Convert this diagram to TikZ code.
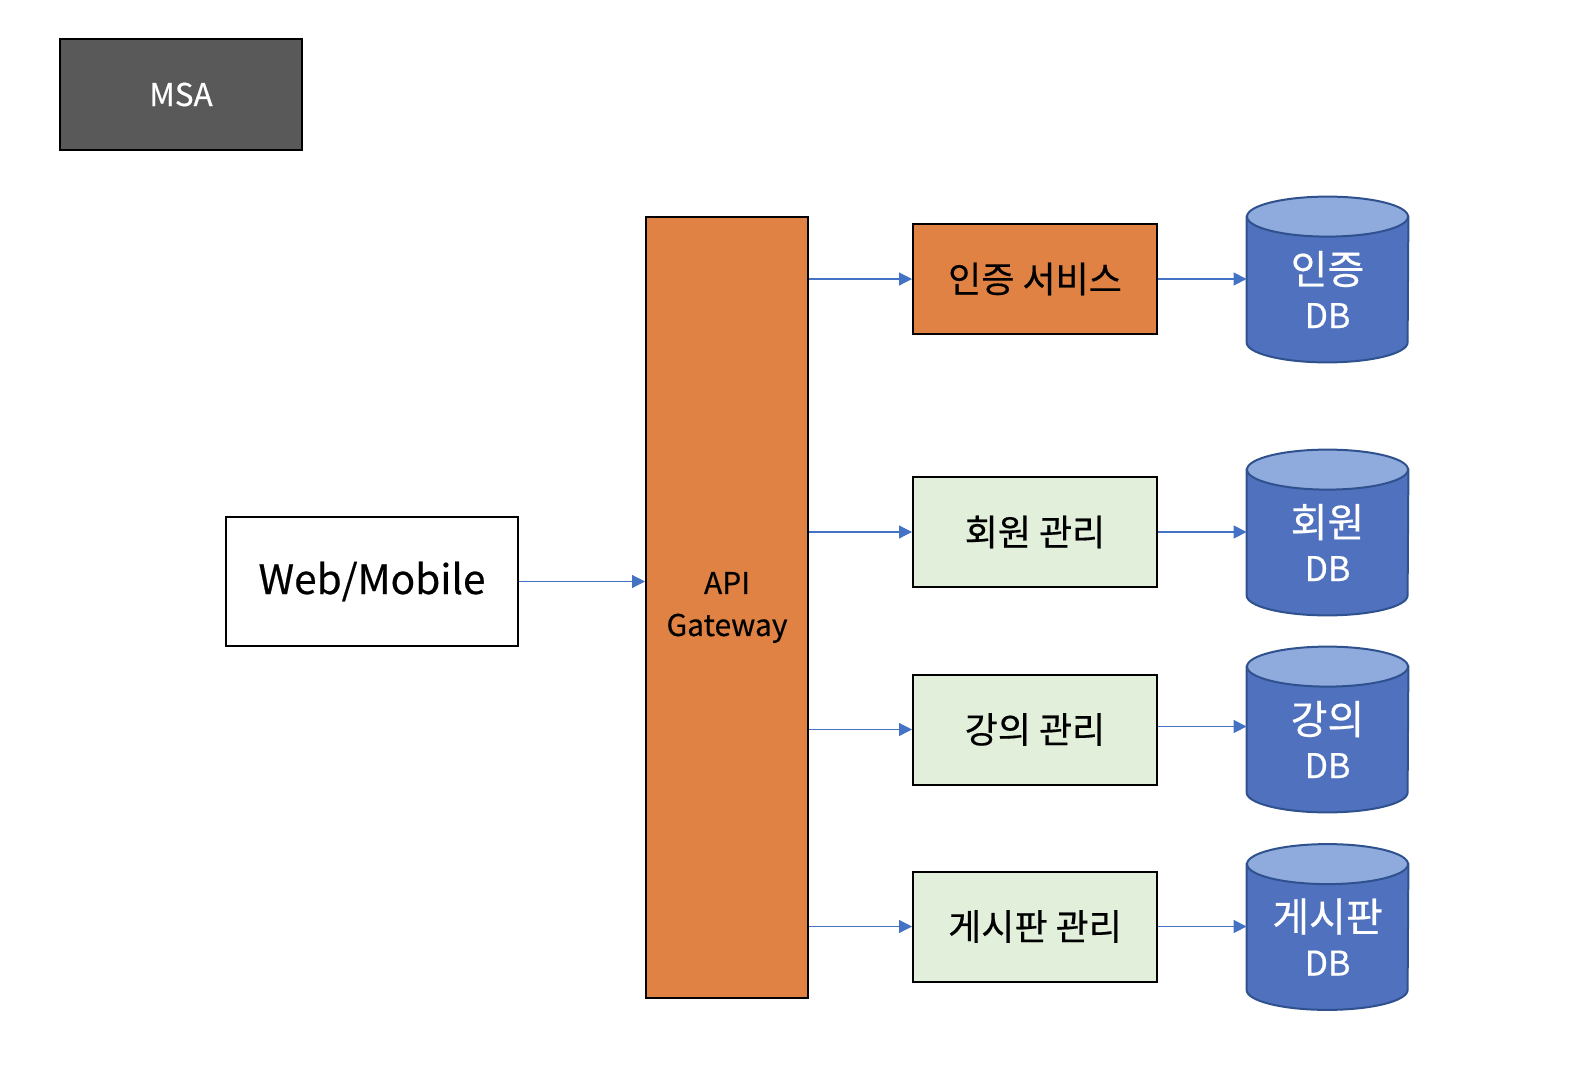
\documentclass[tikz,border=0pt]{standalone}
\usepackage{fontspec}
\setmainfont{Noto Sans CJK KR}[BoldFont={Noto Sans CJK KR}, BoldFeatures={FakeBold=0.45}]
\usetikzlibrary{arrows.meta}
\definecolor{msagray}{HTML}{595959}
\definecolor{gworange}{HTML}{DF8243}
\definecolor{svcgreen}{HTML}{E2EFDA}
\definecolor{cylbody}{HTML}{4F71BE}
\definecolor{cyltop}{HTML}{8FAADC}
\definecolor{cylline}{HTML}{2F528F}
\definecolor{arrblue}{HTML}{4472C4}
\tikzset{
  box/.style={draw=black, line width=1pt, inner sep=0pt, align=center},
  svcbox/.style={box, minimum width=122pt, minimum height=55pt, fill=svcgreen,
    font=\fontsize{18}{21}\selectfont\bfseries},
  dbanchor/.style={inner sep=0pt, minimum width=80.5pt, minimum height=82.5pt},
  dbtext/.style={text=white, align=center, font=\fontsize{20}{22}\selectfont\bfseries},
  conn/.style={draw=arrblue, line width=0.6pt, -{Triangle[length=6.5pt,width=6.5pt]}},
}
\newcommand\dbshape[1]{%
  \path[draw=cylline, fill=cylbody, line width=1pt]
    ([yshift=-10pt]#1.north west) -- ([yshift=10pt]#1.south west)
    arc[start angle=180, end angle=360, x radius=40.25pt, y radius=10pt]
    -- ([yshift=-10pt]#1.north east) -- cycle;
  \path[draw=cylline, fill=cyltop, line width=1pt]
    ([yshift=-10pt]#1.north) ellipse [x radius=40.25pt, y radius=10pt];
}
\begin{document}
\begin{tikzpicture}[x=0.5pt, y=-0.5pt]
\useasboundingbox (0,0) rectangle (1576,1088);
% title
\node[box, fill=msagray, text=white, minimum width=121pt, minimum height=55.5pt,
  font=\fontsize{15.7}{18}\selectfont\bfseries] (msa) at (181,94.5) {MSA};
% client
\node[box, fill=white, minimum width=146pt, minimum height=64.5pt,
  font=\fontsize{20.3}{25}\selectfont\bfseries] (web) at (372,581.5) {Web/Mobile};
% gateway
\node[box, fill=gworange, minimum width=81pt, minimum height=390.5pt,
  font=\fontsize{15}{21}\selectfont\bfseries] (gw) at (727,607.5) {API\\Gateway};
% services
\node[svcbox, fill=gworange] (s1) at (1035,279) {인증 서비스};
\node[svcbox] (s2) at (1035,532) {회원 관리};
\node[svcbox] (s3) at (1035,729.5) {강의 관리};
\node[svcbox] (s4) at (1035,926.5) {게시판 관리};
% databases
\node[dbanchor] (db1) at (1327.5,279.5) {};
\node[dbanchor] (db2) at (1327.5,532.5) {};
\node[dbanchor] (db3) at (1327.5,729.5) {};
\node[dbanchor] (db4) at (1327.5,927) {};
\dbshape{db1}\dbshape{db2}\dbshape{db3}\dbshape{db4}
\node[dbtext] (db1t) at ([yshift=-5pt]db1.center) {인증\\{\fontsize{17}{18}\selectfont DB}};
\node[dbtext] (db2t) at ([yshift=-5pt]db2.center) {회원\\{\fontsize{17}{18}\selectfont DB}};
\node[dbtext] (db3t) at ([yshift=-5pt]db3.center) {강의\\{\fontsize{17}{18}\selectfont DB}};
\node[dbtext] (db4t) at ([yshift=-5pt]db4.center) {게시판\\{\fontsize{17}{18}\selectfont DB}};
% connectors
\draw[conn] (web.east) -- (web.east -| gw.west);
\draw[conn] (gw.east |- s1.west) -- (s1.west);
\draw[conn] (gw.east |- s2.west) -- (s2.west);
\draw[conn] (gw.east |- s3.west) -- (s3.west);
\draw[conn] (gw.east |- s4.west) -- (s4.west);
\draw[conn] (s1.east) -- (s1.east -| db1.west);
\draw[conn] (s2.east) -- (s2.east -| db2.west);
\draw[conn] ([yshift=1.5pt]s3.east) -- ([yshift=1.5pt]s3.east -| db3.west);
\draw[conn] (s4.east) -- (s4.east -| db4.west);
\end{tikzpicture}
\end{document}
